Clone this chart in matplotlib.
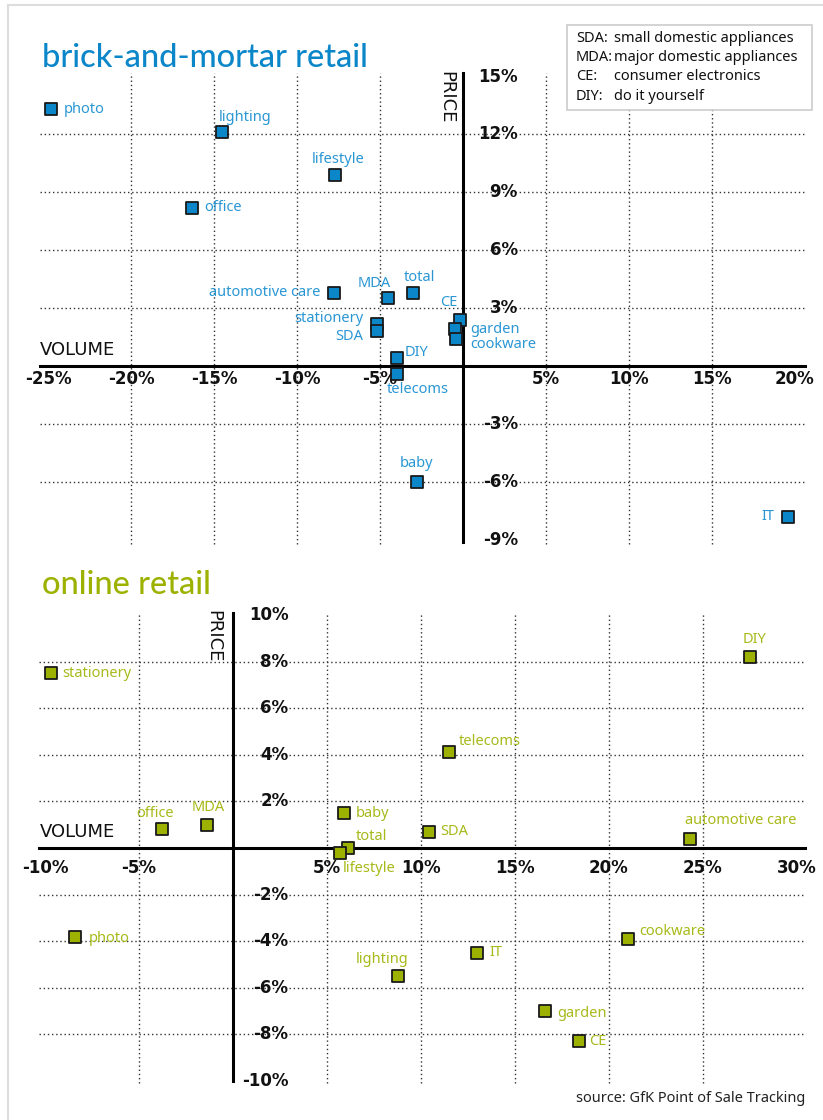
import matplotlib
matplotlib.use("Agg")
import matplotlib.pyplot as plt
from matplotlib.lines import Line2D

# brick-and-mortar retail: volume change (%) vs price change (%)
store_names = ["photo", "lighting", "lifestyle", "office", "automotive care", "MDA",
               "total", "CE", "stationery", "SDA", "garden", "cookware", "DIY",
               "telecoms", "baby", "IT"]
store_volume = [-24.8, -14.5, -7.7, -16.3, -7.8, -4.5, -3.0, -0.2, -5.2, -5.2,
                -0.5, -0.4, -4.0, -4.0, -2.8, 19.6]
store_price = [13.3, 12.1, 9.9, 8.2, 3.8, 3.5, 3.8, 2.4, 2.2, 1.8, 1.9, 1.4,
               0.4, -0.4, -6.0, -7.8]

# online retail
online_names = ["stationery", "DIY", "telecoms", "office", "MDA", "baby", "SDA",
                "automotive care", "total", "lifestyle", "photo", "cookware",
                "lighting", "IT", "garden", "CE"]
online_volume = [-9.7, 27.5, 11.5, -3.8, -1.4, 5.9, 10.4, 24.3, 6.1, 5.7, -8.4,
                 21.0, 8.8, 13.0, 16.6, 18.4]
online_price = [7.5, 8.2, 4.1, 0.8, 1.0, 1.5, 0.7, 0.4, 0.0, -0.2, -3.8, -3.9,
                -5.5, -4.5, -7.0, -8.3]

store_xticks = [-25, -20, -15, -10, -5, 5, 10, 15, 20]
store_yticks = [-9, -6, -3, 3, 6, 9, 12, 15]
online_xticks = [-10, -5, 5, 10, 15, 20, 25, 30]
online_yticks = [-10, -8, -6, -4, -2, 2, 4, 6, 8, 10]

legend_abbr = ["SDA:", "MDA:", "CE:", "DIY:"]
legend_text = ["small domestic appliances", "major domestic appliances",
               "consumer electronics", "do it yourself"]

# label placement (pixel offsets from the marker, alignment)
store_offsets = [(12, 0, "left"), (-4, 15, "left"), (3, 15, "center"), (12, 0, "left"),
                 (-13, 0, "right"), (3, 15, "right"), (-9, 15, "left"), (-2, 17, "right"),
                 (-13, 5, "right"), (-13, -5, "right"), (16, 0, "left"), (14, -6, "left"),
                 (8, 6, "left"), (-10, -16, "left"), (0, 18, "center"), (-14, 0, "right")]
online_offsets = [(12, 0, "left"), (5, 17, "center"), (10, 11, "left"), (-6, 16, "center"),
                  (2, 17, "center"), (12, 0, "left"), (12, 0, "left"), (-5, 18, "left"),
                  (8, 12, "left"), (3, -16, "left"), (14, -2, "left"), (11, 7, "left"),
                  (-16, 17, "center"), (12, 0, "left"), (12, -2, "left"), (10, 0, "left")]

BLUE = "#0a86c9"
BLUE_TXT = "#2a97d4"
GREEN = "#9db200"
GREEN_TXT = "#a7ba1a"
W, H = 823, 1120

fig = plt.figure(figsize=(W / 100, H / 100), dpi=100)
fig.patch.set_facecolor("white")

# light frame on the left and top
fig.add_artist(Line2D([8 / W, 8 / W], [0, 1 - 5 / H], color="#dddddd", lw=1.5))
fig.add_artist(Line2D([8 / W, 1], [1 - 5 / H, 1 - 5 / H], color="#dddddd", lw=1.5))

tick_font = dict(family="DejaVu Sans", fontweight="bold", fontsize=12, color="#111111")
lab_font = dict(family="Noto Sans", fontsize=10.5)
axis_font = dict(family="DejaVu Sans", fontsize=13, color="#111111")


def draw_panel(ax, xlim, ylim, xg, yg, xticks, yticks, xlab_y, ylab_x, xs, ys, names,
               offsets, face, txtcol, xspan, yspan):
    ax.set_xlim(*xlim)
    ax.set_ylim(*ylim)
    ax.axis("off")
    for g in xg:
        ax.plot([g, g], yspan, color="#333333", lw=1, ls=(0, (1, 2)), zorder=1)
    for g in yg:
        ax.plot(xspan, [g, g], color="#333333", lw=1, ls=(0, (1, 2)), zorder=1)
    ax.plot(xspan, [0, 0], color="black", lw=2.2, zorder=2)
    ax.plot([0, 0], [yspan[0] + 0.1, yspan[1]], color="black", lw=2.2, zorder=2)
    for t in xticks:
        ax.text(t, xlab_y, f"{t}%", ha="center", va="center", **tick_font)
    for t in yticks:
        ax.text(ylab_x, t, f"{t}%", ha="right", va="center", **tick_font)
    ax.scatter(xs, ys, marker="s", s=85, color=face, edgecolors="#1a1a1a",
               linewidths=1.3, zorder=4)
    for x, y, n, (dx, dy, ha) in zip(xs, ys, names, offsets):
        ax.annotate(n, (x, y), xytext=(dx, dy), textcoords="offset pixels",
                    ha=ha, va="center", color=txtcol,
                    fontweight="bold" if n == "total" else "normal", zorder=5, **lab_font)


# top panel
ax1 = fig.add_axes([31.4 / W, 1 - 559 / H, (811.6 - 31.4) / W, (559 - 57.2) / H])
draw_panel(ax1, (-26, 21), (-10, 16), [-20, -15, -10, -5, 5, 10, 15],
           [-6, -3, 3, 6, 9, 12], store_xticks, store_yticks, -0.65, 3.3,
           store_volume, store_price, store_names, store_offsets, BLUE, BLUE_TXT,
           (-25.5, 20.6), (-9.2, 15.2))
ax1.text(-25.5, 0.35, "VOLUME", ha="left", va="bottom", **axis_font)
ax1.text(-0.45, 15.3, "PRICE", ha="right", va="top", rotation=-90, **axis_font)

# bottom panel
ax2 = fig.add_axes([35.6 / W, 1 - 1104.3 / H, (815.8 - 35.6) / W, (1104.3 - 591.7) / H])
draw_panel(ax2, (-10.5, 31), (-11, 11), [-5, 5, 10, 15, 20, 25],
           [-8, -6, -4, -2, 2, 4, 6, 8], online_xticks, online_yticks, -0.85, 2.95,
           online_volume, online_price, online_names, online_offsets, GREEN, GREEN_TXT,
           (-10.3, 30.4), (-10.1, 10.1))
ax2.text(-10.3, 0.3, "VOLUME", ha="left", va="bottom", **axis_font)
ax2.text(-0.55, 10.2, "PRICE", ha="right", va="top", rotation=-90, **axis_font)

# titles
title_font = dict(family=["Lato", "Noto Sans"], fontweight="medium", fontsize=23.5,
                  va="center", ha="left")
fig.text(42 / W, 1 - 58 / H, "brick-and-mortar retail", color=BLUE, **title_font)
fig.text(42 / W, 1 - 585 / H, "online retail", color=GREEN, **title_font)

# legend box with abbreviations
fig.add_artist(plt.Rectangle((567 / W, 1 - 110 / H), (812 - 567) / W, 85 / H,
                             transform=fig.transFigure, facecolor="white",
                             edgecolor="#cccccc", lw=1.2, zorder=10))
for i, (a, t) in enumerate(zip(legend_abbr, legend_text)):
    yy = 1 - (38 + 19.5 * i) / H
    fig.text(576 / W, yy, a, fontsize=10.5, family="Noto Sans", color="#111111",
             va="center", zorder=11)
    fig.text(614 / W, yy, t, fontsize=10.5, family="Noto Sans", color="#111111",
             va="center", zorder=11)

fig.text(805 / W, 1 - 1098 / H, "source: GfK Point of Sale Tracking", ha="right",
         va="center", fontsize=10.5, family="Noto Sans", color="#222222")

fig.savefig("out.png", dpi=100)
